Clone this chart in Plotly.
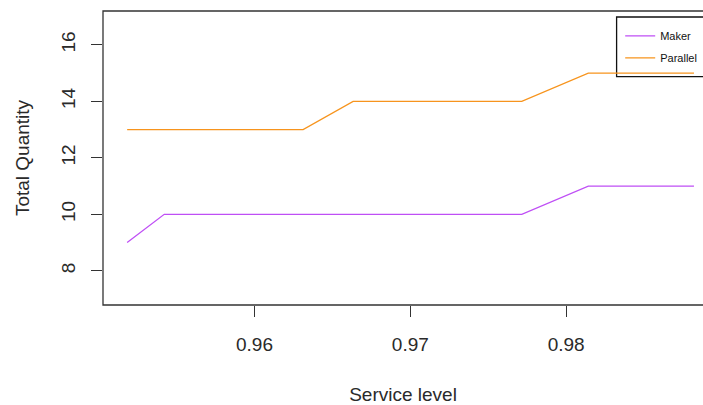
import plotly.graph_objects as go

service_level = [0.95183, 0.95421, 0.96312, 0.96633, 0.97715, 0.98142, 0.98820]
maker = [9, 10, 10, 10, 10, 11, 11]
parallel = [13, 13, 13, 14, 14, 15, 15]
x_ticks = [0.96, 0.97, 0.98]
x_tick_labels = ["0.96", "0.97", "0.98"]
y_ticks = [8, 10, 12, 14, 16]

FONT = "Liberation Sans, Arial, sans-serif"
TXT = "#2a2a2a"

fig = go.Figure()
fig.add_trace(go.Scatter(x=service_level, y=maker, mode="lines", name="Maker",
                         legendgroup="m", line=dict(color="#BF4FF5", width=1.3)))
fig.add_trace(go.Scatter(x=service_level, y=parallel, mode="lines", name="Parallel",
                         legendgroup="p", line=dict(color="#F7941D", width=1.3)))

fig.update_layout(
    width=703, height=405,
    margin=dict(l=103, r=0, t=11, b=100),
    paper_bgcolor="white", plot_bgcolor="white",
    font=dict(family=FONT, size=19, color=TXT),
    showlegend=True,
    legend=dict(x=0.862, y=0.965, xanchor="left", yanchor="top",
                bgcolor="rgba(0,0,0,0)", borderwidth=0,
                font=dict(family="Liberation Sans Narrow, Arial Narrow, sans-serif", size=11, color="#111"),
                itemwidth=30, tracegroupgap=3),
    xaxis=dict(range=[0.95028, 0.98878], tickvals=x_ticks, ticktext=x_tick_labels,
               showgrid=False, zeroline=False, showline=False,
               ticks="outside", ticklen=11, tickcolor="#333", tickwidth=1,
               ticklabelstandoff=11,
               title=dict(text="Service level", standoff=34, font=dict(size=19))),
    yaxis=dict(range=[6.79, 17.2], tickvals=y_ticks,
               showgrid=False, zeroline=False, showline=False,
               ticks="outside", ticklen=11, tickcolor="#333", tickwidth=1,
               tickangle=-90, ticklabelstandoff=8,
               title=dict(text="Total Quantity", standoff=23, font=dict(size=19))),
    shapes=[
        dict(type="rect", xref="paper", yref="paper", x0=0, x1=1.05, y0=0, y1=1,
             line=dict(color="#333", width=1.3), fillcolor="rgba(0,0,0,0)"),
        dict(type="rect", xref="paper", yref="paper", x0=0.856, x1=1.05, y0=0.7765, y1=0.9796,
             line=dict(color="#111", width=1.3), fillcolor="white", layer="below"),
    ],
)

fig.write_html("out.html", config={"displayModeBar": False},
               post_script="document.body.style.margin='0';")
